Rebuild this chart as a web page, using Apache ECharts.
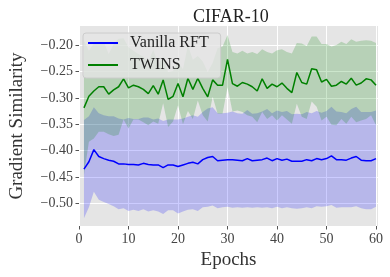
<!DOCTYPE html>
<html>
<head>
<meta charset="utf-8">
<script src="https://cdn.jsdelivr.net/npm/echarts@6/dist/echarts.min.js"></script>
<style>html,body{margin:0;padding:0;background:#fff}#c{width:390px;height:277px}</style>
</head>
<body>
<div id="c"></div>
<script>
const epochs = [1,2,3,4,5,6,7,8,9,10,11,12,13,14,15,16,17,18,19,20,21,22,23,24,25,26,27,28,29,30,
  31,32,33,34,35,36,37,38,39,40,41,42,43,44,45,46,47,48,49,50,51,52,53,54,55,56,57,58,59,60];

const vanillaMean = [-0.435,-0.421,-0.398,-0.411,-0.415,-0.418,-0.420,-0.425,-0.425,-0.426,
  -0.426,-0.427,-0.424,-0.426,-0.427,-0.427,-0.432,-0.427,-0.427,-0.430,
  -0.427,-0.424,-0.422,-0.425,-0.417,-0.413,-0.411,-0.419,-0.418,-0.417,
  -0.417,-0.418,-0.419,-0.415,-0.419,-0.418,-0.417,-0.414,-0.419,-0.415,
  -0.418,-0.416,-0.420,-0.420,-0.420,-0.417,-0.419,-0.415,-0.417,-0.415,
  -0.410,-0.417,-0.417,-0.418,-0.414,-0.411,-0.418,-0.419,-0.419,-0.415];
const vanillaLower = [-0.528,-0.507,-0.478,-0.493,-0.497,-0.501,-0.505,-0.511,-0.509,-0.514,
  -0.512,-0.514,-0.511,-0.515,-0.513,-0.515,-0.520,-0.513,-0.513,-0.519,
  -0.515,-0.512,-0.511,-0.514,-0.507,-0.506,-0.504,-0.509,-0.507,-0.506,
  -0.508,-0.507,-0.508,-0.507,-0.508,-0.507,-0.508,-0.507,-0.509,-0.506,
  -0.509,-0.507,-0.509,-0.510,-0.509,-0.507,-0.509,-0.505,-0.506,-0.505,
  -0.503,-0.508,-0.507,-0.507,-0.507,-0.505,-0.509,-0.511,-0.511,-0.506];
const vanillaUpper = [-0.342,-0.335,-0.318,-0.329,-0.333,-0.335,-0.335,-0.339,-0.341,-0.338,
  -0.340,-0.340,-0.337,-0.337,-0.341,-0.339,-0.344,-0.341,-0.341,-0.341,
  -0.339,-0.336,-0.333,-0.336,-0.327,-0.320,-0.318,-0.329,-0.329,-0.328,
  -0.326,-0.329,-0.330,-0.323,-0.330,-0.329,-0.326,-0.321,-0.329,-0.324,
  -0.327,-0.325,-0.331,-0.330,-0.331,-0.327,-0.329,-0.325,-0.328,-0.325,
  -0.317,-0.326,-0.327,-0.329,-0.321,-0.317,-0.327,-0.327,-0.327,-0.324];

const twinsMean = [-0.319,-0.297,-0.287,-0.279,-0.279,-0.293,-0.285,-0.279,-0.264,-0.281,
  -0.276,-0.279,-0.284,-0.292,-0.277,-0.293,-0.266,-0.303,-0.297,-0.273,
  -0.298,-0.263,-0.284,-0.263,-0.282,-0.298,-0.266,-0.276,-0.276,-0.227,
  -0.273,-0.278,-0.271,-0.274,-0.279,-0.287,-0.264,-0.282,-0.274,-0.279,
  -0.272,-0.282,-0.290,-0.252,-0.271,-0.274,-0.245,-0.247,-0.270,-0.265,
  -0.278,-0.276,-0.269,-0.274,-0.263,-0.276,-0.272,-0.264,-0.266,-0.276];
const twinsLower = [-0.446,-0.383,-0.377,-0.364,-0.364,-0.369,-0.372,-0.370,-0.341,-0.358,
  -0.341,-0.341,-0.346,-0.352,-0.345,-0.349,-0.310,-0.355,-0.345,-0.314,
  -0.350,-0.325,-0.340,-0.305,-0.333,-0.345,-0.298,-0.330,-0.330,-0.280,
  -0.326,-0.324,-0.327,-0.333,-0.336,-0.346,-0.327,-0.340,-0.333,-0.343,
  -0.333,-0.341,-0.349,-0.311,-0.336,-0.340,-0.307,-0.317,-0.343,-0.336,
  -0.351,-0.352,-0.340,-0.349,-0.336,-0.346,-0.343,-0.340,-0.333,-0.352];
const twinsUpper = [-0.192,-0.211,-0.197,-0.194,-0.194,-0.217,-0.198,-0.188,-0.187,-0.204,
  -0.211,-0.217,-0.222,-0.232,-0.209,-0.237,-0.222,-0.251,-0.249,-0.232,
  -0.246,-0.201,-0.228,-0.221,-0.231,-0.251,-0.234,-0.206,-0.203,-0.181,
  -0.213,-0.216,-0.211,-0.216,-0.213,-0.217,-0.208,-0.213,-0.216,-0.210,
  -0.208,-0.213,-0.216,-0.196,-0.197,-0.202,-0.184,-0.184,-0.198,-0.198,
  -0.203,-0.200,-0.194,-0.198,-0.189,-0.194,-0.192,-0.191,-0.192,-0.196];

const xTicks = [0,10,20,30,40,50,60];
const yTicks = [-0.50,-0.45,-0.40,-0.35,-0.30,-0.25,-0.20];

const FONT = '"Liberation Serif", "Times New Roman", serif';

function band(lower, upper, color) {
  return {
    type: 'custom',
    silent: true,
    z: 1,
    data: [[epochs[0], lower[0]]],
    renderItem: function (params, api) {
      const pts = [];
      for (let i = 0; i < epochs.length; i++) pts.push(api.coord([epochs[i], upper[i]]));
      for (let i = epochs.length - 1; i >= 0; i--) pts.push(api.coord([epochs[i], lower[i]]));
      return { type: 'polygon', shape: { points: pts }, style: { fill: color, stroke: null } };
    }
  };
}

const chart = echarts.init(document.getElementById('c'), null, { renderer: 'canvas' });
chart.setOption({
  animation: false,
  backgroundColor: '#ffffff',
  title: {
    text: 'CIFAR-10', left: 188, top: 3,
    textStyle: { fontFamily: FONT, fontSize: 18, fontWeight: 'normal', color: '#222' }
  },
  grid: { left: 76, right: 12, top: 26, bottom: 51, show: true, backgroundColor: '#E5E5E5', borderWidth: 0 },
  legend: {
    data: ['Vanilla RFT', 'TWINS'],
    orient: 'vertical', left: 83, top: 33,
    padding: [2, 12, 5, 5], itemGap: 6,
    itemWidth: 30, itemHeight: 2, icon: 'rect',
    backgroundColor: 'rgba(229,229,229,0.8)', borderColor: '#cccccc', borderWidth: 1, borderRadius: 3,
    textStyle: { fontFamily: FONT, fontSize: 16, color: '#222', lineHeight: 16, padding: [0, 0, 0, 7] }
  },
  xAxis: {
    type: 'value', min: 0, max: 60.4, interval: 10,
    name: 'Epochs', nameLocation: 'middle', nameGap: 24,
    nameTextStyle: { fontFamily: FONT, fontSize: 19, color: '#333' },
    axisLine: { show: false },
    axisTick: { show: true, length: 3.5, lineStyle: { color: '#555' }, customValues: xTicks },
    axisLabel: { fontFamily: FONT, fontSize: 14, color: '#444', margin: 6, customValues: xTicks },
    splitLine: { show: true, lineStyle: { color: '#ffffff', width: 1 } }
  },
  yAxis: {
    type: 'value', min: -0.5426, max: -0.164, splitNumber: 8,
    name: 'Gradient Similarity', nameLocation: 'middle', nameGap: 52,
    nameTextStyle: { fontFamily: FONT, fontSize: 19, color: '#333' },
    axisLine: { show: false },
    axisTick: { show: true, length: 3.5, lineStyle: { color: '#555' }, customValues: yTicks },
    axisLabel: {
      fontFamily: FONT, fontSize: 14, color: '#444', margin: 6, customValues: yTicks,
      formatter: function (v) { return (v < 0 ? '\u2212' : '') + Math.abs(v).toFixed(2); }
    },
    splitLine: { show: true, lineStyle: { color: '#ffffff', width: 1 } }
  },
  series: [
    band(vanillaLower, vanillaUpper, 'rgba(0,0,255,0.2)'),
    band(twinsLower, twinsUpper, 'rgba(0,128,0,0.2)'),
    {
      name: 'Vanilla RFT', type: 'line', z: 3, symbol: 'none', color: '#0000ff',
      lineStyle: { color: '#0000ff', width: 1.5 },
      data: epochs.map((e, i) => [e, vanillaMean[i]])
    },
    {
      name: 'TWINS', type: 'line', z: 3, symbol: 'none', color: '#008000',
      lineStyle: { color: '#008000', width: 1.5 },
      data: epochs.map((e, i) => [e, twinsMean[i]])
    }
  ]
});
</script>
</body>
</html>
